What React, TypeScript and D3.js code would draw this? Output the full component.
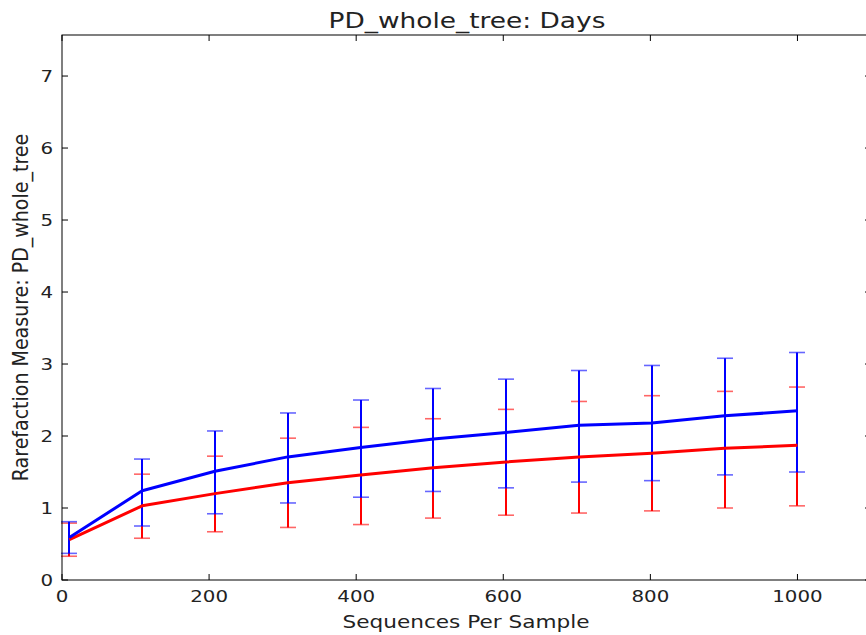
import React from "react";
import * as d3 from "d3";

// rarefaction depths (sequences per sample)
const depths = [10, 109, 208, 307, 406, 505, 604, 703, 802, 901, 1000];

// blue series: mean and error bar ends
const blueMean = [0.59, 1.24, 1.51, 1.71, 1.84, 1.96, 2.05, 2.15, 2.18, 2.28, 2.35];
const blueHigh = [0.81, 1.68, 2.07, 2.32, 2.5, 2.66, 2.79, 2.91, 2.98, 3.08, 3.16];
const blueLow = [0.37, 0.75, 0.92, 1.07, 1.15, 1.23, 1.28, 1.36, 1.38, 1.46, 1.5];

// red series
const redMean = [0.56, 1.03, 1.2, 1.35, 1.46, 1.56, 1.64, 1.71, 1.76, 1.83, 1.87];
const redHigh = [0.79, 1.47, 1.72, 1.97, 2.12, 2.24, 2.37, 2.48, 2.56, 2.62, 2.68];
const redLow = [0.33, 0.58, 0.67, 0.73, 0.77, 0.86, 0.9, 0.93, 0.96, 1.0, 1.03];

const xTicks = [0, 200, 400, 600, 800, 1000];
const yTicks = [0, 1, 2, 3, 4, 5, 6, 7];

const title = "PD_whole_tree: Days";
const xLabel = "Sequences Per Sample";
const yLabel = "Rarefaction Measure: PD_whole_tree";

const W = 866;
const H = 635;
const left = 62;
const right = 871; // right spine sits just past the picture edge
const top = 35;
const bottom = 580;
const tickLen = 6;
const stretch = 1.2; // the source picture is widened a little
const font = "'DejaVu Sans', sans-serif";

export default function App() {
    const x = d3.scaleLinear().domain([0, 1100]).range([left, right]);
    const y = d3.scaleLinear().domain([0, 7.57]).range([bottom, top]);

    const line = d3.line<number>()
        .x((d, i) => x(depths[i]))
        .y((d) => y(d));

    const series = [
        { mean: redMean, high: redHigh, low: redLow, color: "#ff0000" },
        { mean: blueMean, high: blueHigh, low: blueLow, color: "#0000ff" },
    ];

    const errorBars = (s: typeof series[0], key: string) => (
        <g key={key}>
            {depths.map((d, i) => {
                const cx = Math.round(x(d));
                return (
                    <g key={i}>
                        <line x1={cx} x2={cx} y1={y(s.low[i])} y2={y(s.high[i])}
                            stroke={s.color} strokeWidth={2} />
                        <line x1={cx - 8} x2={cx + 8} y1={y(s.high[i])} y2={y(s.high[i])}
                            stroke={s.color} strokeWidth={1.6} strokeOpacity={0.6} />
                        <line x1={cx - 8} x2={cx + 8} y1={y(s.low[i])} y2={y(s.low[i])}
                            stroke={s.color} strokeWidth={1.6} strokeOpacity={0.6} />
                    </g>
                );
            })}
        </g>
    );

    const wideText = (tx: number, ty: number, str: string, size: number, anchor: string, dy?: string) => (
        <g transform={`translate(${tx},${ty}) scale(${stretch},1)`}>
            <text textAnchor={anchor} fontSize={size} dy={dy} fill="#222">{str}</text>
        </g>
    );

    return (
        <svg width={W} height={H} style={{ position: "absolute", left: 0, top: 0 }}
            fontFamily={font}>
            <rect width={W} height={H} fill="#fff" />

            {/* error bars first, then the mean lines on top */}
            {series.map((s, i) => errorBars(s, "e" + i))}
            {series.map((s, i) => (
                <path key={"l" + i} d={line(s.mean) || ""} fill="none"
                    stroke={s.color} strokeWidth={3} strokeLinejoin="round" />
            ))}

            {/* frame */}
            <rect x={left} y={top} width={right - left} height={bottom - top}
                fill="none" stroke="#000" strokeWidth={1} />

            {/* x ticks, on bottom and top, pointing inward */}
            {xTicks.map((t) => (
                <g key={"x" + t}>
                    <line x1={x(t)} x2={x(t)} y1={bottom} y2={bottom - tickLen} stroke="#000" />
                    <line x1={x(t)} x2={x(t)} y1={top} y2={top + tickLen} stroke="#000" />
                    {wideText(x(t), bottom + 22, String(t), 16.5, "middle")}
                </g>
            ))}

            {/* y ticks, on left and right */}
            {yTicks.map((t) => (
                <g key={"y" + t}>
                    <line x1={left} x2={left + tickLen} y1={y(t)} y2={y(t)} stroke="#000" />
                    <line x1={right} x2={right - tickLen} y1={y(t)} y2={y(t)} stroke="#000" />
                    {wideText(left - 9, y(t), String(t), 16.5, "end", "0.36em")}
                </g>
            ))}

            {wideText(467, 28, title, 22, "middle")}
            {wideText(466, 628, xLabel, 18, "middle")}
            <g transform={`translate(28,${(top + bottom) / 2}) rotate(-90) scale(1,1.1)`}>
                <text textAnchor="middle" fontSize={19} fill="#222">{yLabel}</text>
            </g>
        </svg>
    );
}
